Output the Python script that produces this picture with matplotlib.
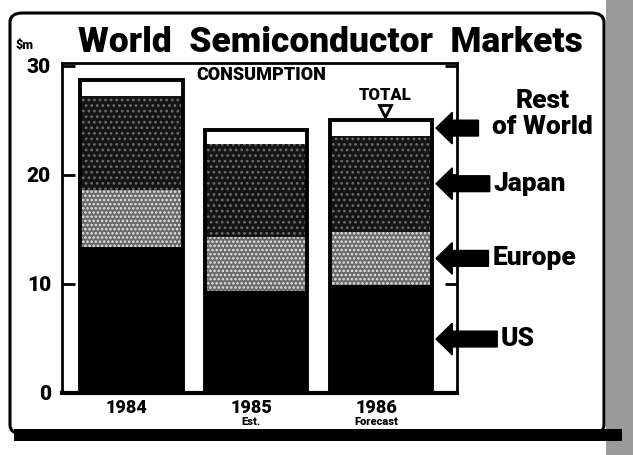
import matplotlib.pyplot as plt
import numpy as np
from matplotlib.patches import FancyArrow, FancyBboxPatch, Rectangle

# values, $bn
years = ["1984", "1985", "1986"]
notes = ["", "Est.", "Forecast"]
us = [13.4, 9.4, 9.9]
europe = [5.2, 4.9, 4.9]
japan = [8.6, 8.5, 8.8]
rest = [1.5, 1.3, 1.4]
region_labels = ["US", "Europe", "Japan", "Rest\nof World"]

series = [us, europe, japan, rest]
faces = ["black", "#6a6a6a", "#151515", "white"]
hatch_cols = ["black", "#e8e8e8", "#6a6a6a", "white"]
hatches = [None, "....", "...", None]

plt.rcParams["font.family"] = ["Roboto", "DejaVu Sans"]
plt.rcParams["hatch.linewidth"] = 1.2

W, H = 633, 455
fig = plt.figure(figsize=(W / 100, H / 100), dpi=100)
fig.patch.set_facecolor("white")

# newsprint strip on the right and the boxed frame
fig.patches.append(Rectangle((606 / W, 0), 27 / W, 1, transform=fig.transFigure,
                             facecolor="#9a9a9a", edgecolor="none", zorder=0))
fig.patches.append(FancyBboxPatch((10 / W, 1 - 434 / H), 594 / W, 421 / H,
                                  boxstyle="round,pad=0,rounding_size=0.02",
                                  transform=fig.transFigure, facecolor="none",
                                  edgecolor="black", linewidth=2.2, zorder=1))
fig.patches.append(Rectangle((14 / W, 1 - 441 / H), 608 / W, 12 / H,
                             transform=fig.transFigure, facecolor="black",
                             edgecolor="none", zorder=1))

ax = fig.add_axes([62 / W, 1 - 393 / H, (457 - 62) / W, (393 - 62.7) / H])
x = np.arange(len(years))
bottom = np.zeros(len(years))
for vals, fc, hc, h in zip(series, faces, hatch_cols, hatches):
    ax.bar(x, vals, bottom=bottom, width=0.82, facecolor=fc, edgecolor=hc,
           hatch=h, linewidth=0, zorder=2)
    bottom += np.array(vals)
ax.bar(x, bottom, width=0.82, fill=False, edgecolor="black", linewidth=2.8, zorder=3)

ax.set_xlim(-0.556, 2.608)
ax.set_ylim(0, 30.3)
ax.set_yticks([0, 10, 20, 30])
ax.set_yticklabels(["0", "10", "20", "30"], fontsize=15, fontweight="black")
ax.set_xticks([])
ax.tick_params(axis="y", direction="in", length=9, width=2, pad=8,
               right=True)
for s in ax.spines.values():
    s.set_linewidth(2)
ax.spines["bottom"].set_linewidth(3)

for i, (yr, note) in enumerate(zip(years, notes)):
    ax.text(i - 0.04, -1.4, yr, ha="center", va="center", fontsize=13,
            fontweight="black", clip_on=False)
    if note:
        ax.text(i - 0.04, -2.65, note, ha="center", va="center", fontsize=8,
                fontweight="black", clip_on=False)

ax.text(1.04, 29.2, "CONSUMPTION", ha="center", va="center", fontsize=13,
        fontweight="black")
ax.text(2.03, 27.3, "TOTAL", ha="center", va="center", fontsize=12,
        fontweight="black")
ax.plot([2.03], [bottom[-1] + 0.9], marker="v", markersize=8, mfc="white",
        mec="black", mew=2, zorder=4, clip_on=False)

# arrows pointing at each segment of the last bar
last = np.array([s[-1] for s in series])
centres = np.cumsum(last) - last / 2
tails = [2.93, 2.86, 2.87, 2.78]
for yc, tail, lab in zip(centres, tails, region_labels):
    ax.add_patch(FancyArrow(tail, yc, -(tail - 2.44), 0, width=1.45,
                            head_width=2.9, head_length=0.13,
                            length_includes_head=True, color="black",
                            clip_on=False, zorder=5))
    if lab.startswith("Rest"):
        ax.text(3.29, yc + 1.3, lab, ha="center", va="center", fontsize=19,
                fontweight="black", linespacing=1.1, clip_on=False)
    else:
        ax.text(tail + 0.03, yc, lab, ha="left", va="center", fontsize=19,
                fontweight="black", clip_on=False)

fig.text(330 / W, 1 - 42 / H, "World  Semiconductor  Markets", ha="center",
         va="center", fontsize=25.5, fontweight="black")
fig.text(16 / W, 1 - 45 / H, r"\$m", ha="left", va="center", fontsize=9,
         fontweight="black")

fig.savefig("out.png", dpi=100)
